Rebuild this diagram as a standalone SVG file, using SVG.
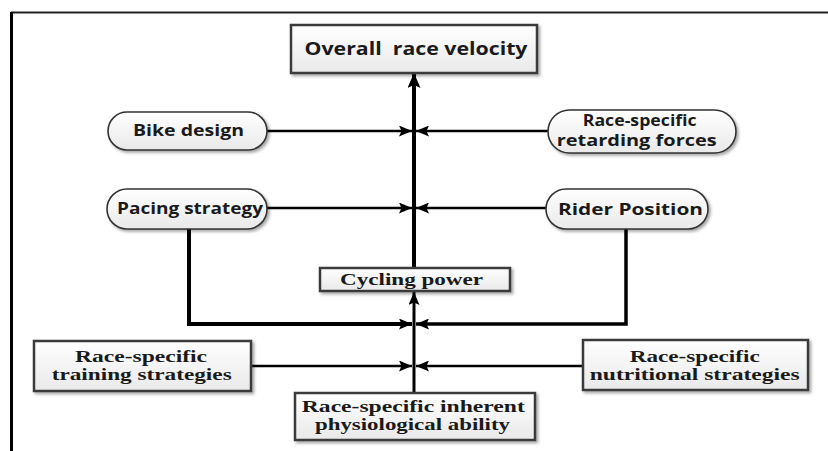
<svg xmlns="http://www.w3.org/2000/svg" width="828" height="451" viewBox="0 0 828 451">
<defs>
<linearGradient id="g" x1="0" y1="0" x2="0" y2="1">
<stop offset="0" stop-color="#ffffff"/>
<stop offset="1" stop-color="#e9e9e9"/>
</linearGradient>
<filter id="sh" x="-10%" y="-20%" width="125%" height="150%">
<feDropShadow dx="2" dy="2" stdDeviation="1.5" flood-color="#000" flood-opacity="0.35"/>
</filter>
<marker id="ah" viewBox="0 0 13 11" refX="13" refY="5.5" markerWidth="13" markerHeight="11" markerUnits="userSpaceOnUse" orient="auto">
<path d="M0,0 L13,5.5 L0,11 L2.5,5.5 z" fill="#000"/>
</marker>
<marker id="ahb" viewBox="0 0 15 13" refX="15" refY="6.5" markerWidth="15" markerHeight="13" markerUnits="userSpaceOnUse" orient="auto">
<path d="M0,0 L15,6.5 L0,13 L3,6.5 z" fill="#000"/>
</marker>
</defs>
<style>
.box{fill:url(#g);stroke:#3a3a3a;stroke-width:2.5;filter:url(#sh)}
.pill{fill:url(#g);stroke:#333;stroke-width:1.6;filter:url(#sh)}
.sans{font-family:"Open Sans","Liberation Sans",sans-serif;font-weight:bold;fill:#1a1a1a;text-anchor:middle}
.serif{font-family:"Liberation Serif","Times New Roman",serif;font-weight:bold;fill:#1a1a1a;text-anchor:middle;font-size:17px}
.c{fill:none;stroke:#000}
</style>

<g id="frame">
<line x1="11" y1="12.5" x2="828" y2="12.5" stroke="#222" stroke-width="2"/>
<line x1="11.5" y1="12" x2="11.5" y2="451" stroke="#000" stroke-width="3"/>
</g>

<g id="connectors">
<line class="c" x1="414" y1="268" x2="414" y2="73" stroke-width="4" marker-end="url(#ahb)"/>
<line class="c" x1="267" y1="131" x2="412" y2="131" stroke-width="2.5" marker-end="url(#ah)"/>
<line class="c" x1="548" y1="131" x2="416" y2="131" stroke-width="2.5" marker-end="url(#ah)"/>
<line class="c" x1="267" y1="208" x2="412" y2="208" stroke-width="2.5" marker-end="url(#ah)"/>
<line class="c" x1="546" y1="208" x2="416" y2="208" stroke-width="2.5" marker-end="url(#ah)"/>
<polyline class="c" points="189,229 189,324 412,324" stroke-width="4" marker-end="url(#ah)"/>
<polyline class="c" points="626,229 626,324 416,324" stroke-width="3.5" marker-end="url(#ah)"/>
<line class="c" x1="251" y1="366" x2="412" y2="366" stroke-width="2.5" marker-end="url(#ah)"/>
<line class="c" x1="583" y1="366" x2="416" y2="366" stroke-width="2.5" marker-end="url(#ah)"/>
<line class="c" x1="414" y1="393" x2="414" y2="292" stroke-width="3" marker-end="url(#ah)"/>
</g>

<g id="overall-race-velocity">
<rect class="box" x="291" y="25" width="246" height="48"/>
<text class="sans" x="416" y="55" font-size="17" textLength="223" lengthAdjust="spacingAndGlyphs">Overall&#160; race velocity</text>
</g>

<g id="bike-design">
<rect class="pill" x="108" y="112" width="159" height="38" rx="19"/>
<text class="sans" x="188.5" y="136" font-size="15.5" textLength="111" lengthAdjust="spacingAndGlyphs">Bike design</text>
</g>

<g id="retarding-forces">
<rect class="pill" x="548" y="110" width="188" height="43" rx="21.5"/>
<text class="sans" x="639.7" y="126" font-size="15.5" textLength="114" lengthAdjust="spacingAndGlyphs">Race-specific</text>
<text class="sans" x="636.7" y="146" font-size="15.5" textLength="160" lengthAdjust="spacingAndGlyphs">retarding forces</text>
</g>

<g id="pacing-strategy">
<rect class="pill" x="107" y="189" width="160" height="40" rx="20"/>
<text class="sans" x="190" y="214" font-size="15.5" textLength="146" lengthAdjust="spacingAndGlyphs">Pacing strategy</text>
</g>

<g id="rider-position">
<rect class="pill" x="546" y="189" width="162" height="40" rx="20"/>
<text class="sans" x="630.5" y="215" font-size="15.5" textLength="145" lengthAdjust="spacingAndGlyphs">Rider Position</text>
</g>

<g id="cycling-power">
<rect class="box" x="320" y="268" width="190" height="23"/>
<text class="serif" x="411.5" y="284.5" textLength="143" lengthAdjust="spacingAndGlyphs">Cycling power</text>
</g>

<g id="training-strategies">
<rect class="box" x="34" y="341" width="217" height="50"/>
<text class="serif" x="141" y="362" textLength="132" lengthAdjust="spacingAndGlyphs">Race-specific</text>
<text class="serif" x="141.7" y="380" textLength="180" lengthAdjust="spacingAndGlyphs">training strategies</text>
</g>

<g id="nutritional-strategies">
<rect class="box" x="583" y="340" width="225" height="50"/>
<text class="serif" x="694.7" y="362" textLength="130" lengthAdjust="spacingAndGlyphs">Race-specific</text>
<text class="serif" x="694.7" y="380" textLength="210" lengthAdjust="spacingAndGlyphs">nutritional strategies</text>
</g>

<g id="inherent-ability">
<rect class="box" x="295" y="393" width="240" height="47"/>
<text class="serif" x="413.3" y="412" textLength="223" lengthAdjust="spacingAndGlyphs">Race-specific inherent</text>
<text class="serif" x="412.5" y="430" textLength="195" lengthAdjust="spacingAndGlyphs">physiological ability</text>
</g>
</svg>
